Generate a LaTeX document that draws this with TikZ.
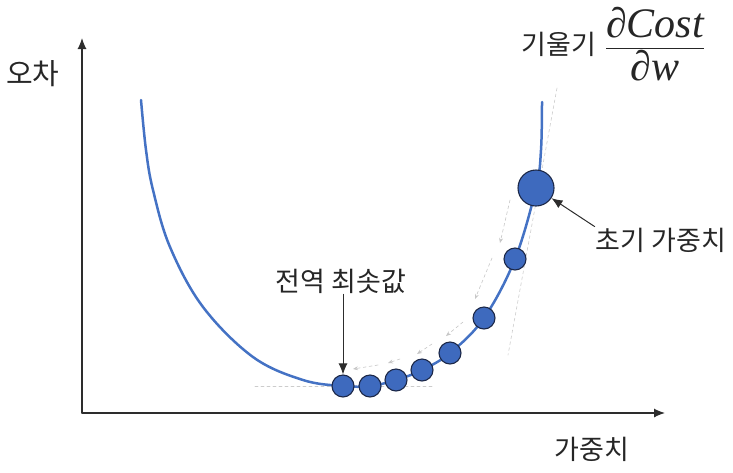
\documentclass[tikz,border=0pt]{standalone}
\usepackage{fontspec}
\newfontfamily\kr{Noto Sans CJK KR}
\newfontfamily\tms{Liberation Serif}
\usetikzlibrary{arrows.meta}
\definecolor{curveblue}{RGB}{68,114,196}
\definecolor{dotblue}{RGB}{62,106,190}
\definecolor{dotedge}{RGB}{28,40,72}
\definecolor{axisgray}{RGB}{45,45,45}

\begin{document}
\begin{tikzpicture}[x=1pt,y=-1pt,line cap=round,line join=round,
  >={Latex[length=11pt,width=9pt]},every node/.style={inner sep=1pt},
  kor/.style={font=\kr\fontsize{27}{30}\selectfont,text=black!85},
  wdot/.style={circle,draw=dotedge,line width=1.1pt,fill=dotblue,minimum size=22pt,inner sep=0pt},
  guide/.style={dashed,gray!40,line width=0.6pt},
  stepdir/.style={dashed,gray!45,line width=0.6pt,-{Stealth[length=5pt,width=4pt]}}]
  \useasboundingbox (0,0) rectangle (733,472);
  % axes
  \coordinate (O) at (82,413);
  \coordinate (ytip) at (82,38);
  \coordinate (xtip) at (665,413);
  \draw[->,axisgray,line width=1.2pt] (O) -- (ytip);
  \draw[->,axisgray,line width=1.2pt] (O) -- (xtip);
  \node[kor,font=\kr\fontsize{29}{32}\selectfont] (ylab) at (33,74) {오차};
  \node[kor] (xlab) at (592,449) {가중치};
  % tangent lines
  \draw[guide] (255,386) -- (432,386);
  \draw[guide] (557,88) -- (508,355);
  % cost curve
  \draw[curveblue,line width=2.5pt] plot[smooth,tension=0.6] coordinates {(141,100) (146,150) (153,190) (170,247) (203,307) (253,357) (303,380) (343,386) (370,386) (396,380) (422,370) (450,353) (484,318) (515,259) (536,188) (541,150) (542,102)};
  % descent steps
  \draw[stepdir] (510,200) -- (500,243);
  \draw[stepdir] (492,258) -- (475,299);
  \draw[stepdir] (463,322) -- (446,336);
  \draw[stepdir] (432,344) -- (417,354);
  \draw[stepdir] (400,359) -- (388,363);
  \draw[stepdir] (378,365) -- (353,369);
  % weights
  \node[wdot,minimum size=36pt] (w0) at (536,188) {};
  \node[wdot] (w1) at (515,259) {};
  \node[wdot] (w2) at (484,318) {};
  \node[wdot] (w3) at (450,353) {};
  \node[wdot] (w4) at (422,370) {};
  \node[wdot] (w5) at (396,380) {};
  \node[wdot] (w6) at (370,386) {};
  \node[wdot] (w7) at (343,386) {};
  % labels
  \node[kor] (gmin) at (341,281) {전역 최솟값};
  \node[kor] (winit) at (661,240) {초기 가중치};
  \draw[->,axisgray,line width=1pt] (gmin.south -| w7) -- (w7);
  \draw[->,axisgray,line width=1pt] (winit.north west) -- (w0);
  \node[kor] (slope) at (559,44) {기울기};
  \node[text=black!85] (frac) at (655,44) {\fontsize{42}{46}\selectfont$\displaystyle\frac{\hbox{\tms\itshape ∂Cost}}{\hbox{\tms\itshape ∂w}}$};
\end{tikzpicture}
\end{document}
